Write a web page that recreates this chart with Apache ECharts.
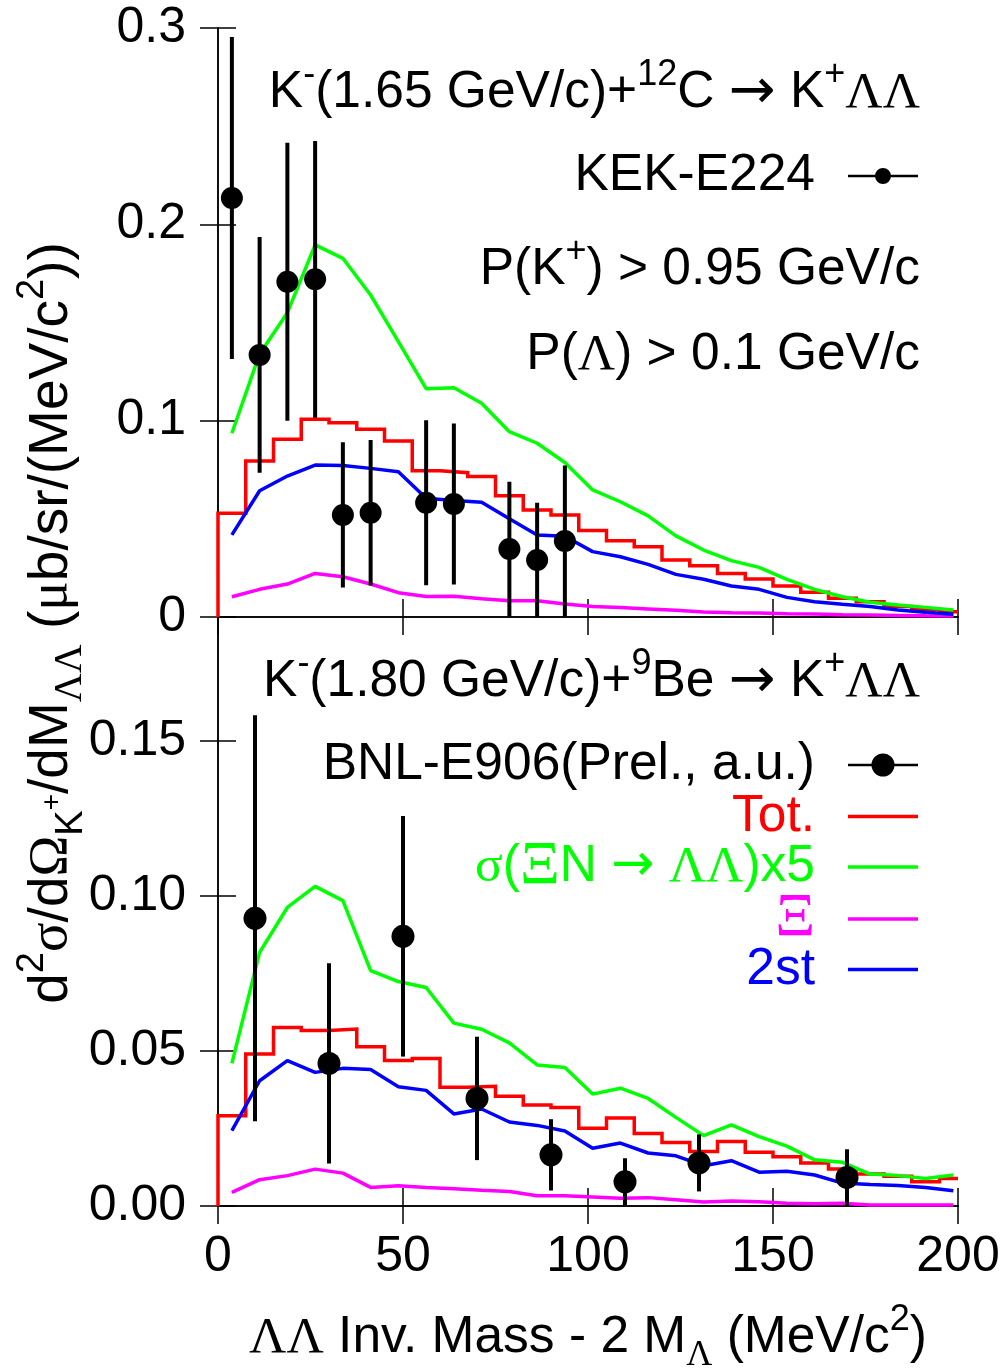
<!DOCTYPE html>
<html>
<head>
<meta charset="utf-8">
<script src="https://cdn.jsdelivr.net/npm/echarts@6/dist/echarts.min.js"></script>
<style>
html,body{margin:0;padding:0;background:#fff;}
#chart{width:1004px;height:1369px;}
</style>
</head>
<body>
<div id="chart"></div>
<script>
// ---------------- DATA ----------------
// mass bins (MeV/c^2): left edges and centres, 7.5 MeV wide
const binLeft = [0, 7.5, 15, 22.5, 30, 37.5, 45, 52.5, 60, 67.5, 75, 82.5, 90, 97.5, 105, 112.5, 120, 127.5, 135, 142.5, 150, 157.5, 165, 172.5, 180, 187.5, 195];
const binCenter = [3.75, 11.25, 18.75, 26.25, 33.75, 41.25, 48.75, 56.25, 63.75, 71.25, 78.75, 86.25, 93.75, 101.25, 108.75, 116.25, 123.75, 131.25, 138.75, 146.25, 153.75, 161.25, 168.75, 176.25, 183.75, 191.25, 198.75];
const massMin = 0, massMax = 200;

// upper panel: K-(1.65 GeV/c) + 12C
const topTot   = [0.0528, 0.0795, 0.0905, 0.1007, 0.0990, 0.0956, 0.0897, 0.0745, 0.0735, 0.0715, 0.0617, 0.0545, 0.0520, 0.0440, 0.0389, 0.0358, 0.0290, 0.0261, 0.0222, 0.0194, 0.0158, 0.0126, 0.0095, 0.0078, 0.0053, 0.0039, 0.0027];
const topSigma = [0.0936, 0.1340, 0.1550, 0.1895, 0.1827, 0.1640, 0.1403, 0.1163, 0.1168, 0.1089, 0.0944, 0.0885, 0.0787, 0.0647, 0.0587, 0.0515, 0.0413, 0.0341, 0.0287, 0.0253, 0.0192, 0.0141, 0.0103, 0.0075, 0.0061, 0.0049, 0.0036];
const topXi    = [0.0103, 0.0141, 0.0168, 0.0222, 0.0205, 0.0168, 0.0124, 0.0104, 0.0106, 0.0093, 0.0083, 0.0083, 0.0066, 0.0053, 0.0048, 0.0041, 0.0034, 0.0025, 0.0022, 0.0020, 0.0017, 0.0015, 0.0012, 0.0010, 0.0008, 0.0006, 0.0005];
const top2st   = [0.0418, 0.0643, 0.0718, 0.0774, 0.0772, 0.0757, 0.0740, 0.0605, 0.0593, 0.0585, 0.0500, 0.0418, 0.0411, 0.0333, 0.0307, 0.0268, 0.0217, 0.0192, 0.0158, 0.0141, 0.0100, 0.0078, 0.0065, 0.0053, 0.0036, 0.0024, 0.0014];
const kekMass  = [3.75, 11.25, 18.75, 26.25, 33.75, 41.25, 56.25, 63.75, 78.75, 86.25, 93.75];
const kekVal   = [0.2134, 0.1335, 0.1708, 0.1720, 0.0520, 0.0531, 0.0582, 0.0576, 0.0346, 0.0290, 0.0387];
const kekErr   = [0.0820, 0.0600, 0.0708, 0.0705, 0.0370, 0.0371, 0.0420, 0.0410, 0.0343, 0.0292, 0.0385];

// lower panel: K-(1.80 GeV/c) + 9Be
const botTot   = [0.0291, 0.0490, 0.0576, 0.0566, 0.0571, 0.0514, 0.0469, 0.0476, 0.0383, 0.0386, 0.0354, 0.0326, 0.0318, 0.0251, 0.0284, 0.0234, 0.0205, 0.0176, 0.0208, 0.0173, 0.0159, 0.0139, 0.0119, 0.0103, 0.0096, 0.0078, 0.0089];
const botSigma = [0.0460, 0.0818, 0.0963, 0.1031, 0.0985, 0.0759, 0.0724, 0.0705, 0.0590, 0.0570, 0.0526, 0.0455, 0.0447, 0.0361, 0.0380, 0.0347, 0.0286, 0.0227, 0.0262, 0.0224, 0.0193, 0.0149, 0.0141, 0.0103, 0.0098, 0.0089, 0.0100];
const botXi    = [0.0044, 0.0085, 0.0098, 0.0119, 0.0106, 0.0060, 0.0065, 0.0060, 0.0056, 0.0051, 0.0047, 0.0033, 0.0033, 0.0029, 0.0025, 0.0027, 0.0020, 0.0013, 0.0016, 0.0014, 0.0009, 0.0007, 0.0009, 0.0003, 0.0003, 0.0003, 0.0003];
const bot2st   = [0.0243, 0.0404, 0.0469, 0.0431, 0.0444, 0.0440, 0.0385, 0.0373, 0.0297, 0.0313, 0.0271, 0.0260, 0.0242, 0.0186, 0.0203, 0.0171, 0.0162, 0.0130, 0.0146, 0.0109, 0.0112, 0.0100, 0.0074, 0.0069, 0.0066, 0.0060, 0.0049];
const bnlMass  = [10, 30, 50, 70, 90, 110, 130, 170];
const bnlVal   = [0.0928, 0.0460, 0.0870, 0.0347, 0.0165, 0.0078, 0.0139, 0.0092];
const bnlErr   = [0.0655, 0.0323, 0.0388, 0.0199, 0.0115, 0.0076, 0.0092, 0.0091];

// axis ticks
const topYTicks = [0, 0.1, 0.2, 0.3];
const botYTicks = [0, 0.05, 0.10, 0.15];
const xTicks = [0, 50, 100, 150, 200];

// series names
const N_TOT = 'Tot.', N_SIG = 'σ(ΞN → ΛΛ)x5', N_XI = 'Ξ', N_2ST = '2st';
const N_KEK = 'KEK-E224', N_BNL = 'BNL-E906(Prel., a.u.)';

// ---------------- STYLE ----------------
const SANS = '"Liberation Sans", Arial, Helvetica, sans-serif';
const SERIF = '"Liberation Serif", "Times New Roman", serif';
const ARROW = '"DejaVu Sans", sans-serif';
const RED = '#ff0000', GREEN = '#00ff00', MAGENTA = '#ff00ff', BLUE = '#0000ff', BLACK = '#000000';
const FS = 51.5, FSS = 36, FTICK = 50;
const LW = 3.5;

function stepData(vals) {
  const d = [[binLeft[0], 0]];
  binLeft.forEach((x, i) => d.push([x, vals[i]]));
  d.push([massMax, vals[vals.length - 1]]);
  return d;
}
function lineData(vals) { return binCenter.map((x, i) => [x, vals[i]]); }
function pointData(xs, ys, es) { return xs.map((x, i) => [x, ys[i], es[i]]); }

function errRender(r) {
  return function (params, api) {
    const x = api.value(0), y = api.value(1), e = api.value(2);
    const c = api.coord([x, y]);
    const hi = api.coord([x, y + e]);
    const lo = api.coord([x, y - e]);
    return {
      type: 'group',
      children: [
        { type: 'line', shape: { x1: c[0], y1: hi[1], x2: c[0], y2: lo[1] }, style: { stroke: BLACK, lineWidth: 4 } },
        { type: 'circle', shape: { cx: c[0], cy: c[1], r: r }, style: { fill: BLACK } }
      ]
    };
  };
}

function panelSeries(xi, yi, tot, sig, xis, st, ptsName, pts, r) {
  const base = { xAxisIndex: xi, yAxisIndex: yi, type: 'line', showSymbol: false, symbol: 'none', animation: false, z: 2 };
  return [
    Object.assign({}, base, { name: N_TOT, step: 'end', data: stepData(tot), color: RED, itemStyle: { color: RED }, lineStyle: { color: RED, width: LW, join: 'miter' } }),
    Object.assign({}, base, { name: N_SIG, data: lineData(sig), color: GREEN, itemStyle: { color: GREEN }, lineStyle: { color: GREEN, width: LW } }),
    Object.assign({}, base, { name: N_XI, data: lineData(xis), color: MAGENTA, itemStyle: { color: MAGENTA }, lineStyle: { color: MAGENTA, width: LW } }),
    Object.assign({}, base, { name: N_2ST, data: lineData(st), color: BLUE, itemStyle: { color: BLUE }, lineStyle: { color: BLUE, width: LW } }),
    { name: ptsName, type: 'custom', xAxisIndex: xi, yAxisIndex: yi, data: pts, clip: true, z: 5,
      color: BLACK, itemStyle: { color: BLACK }, encode: { x: 0, y: 1 }, renderItem: errRender(r) }
  ];
}

const axisLineStyle = { show: true, lineStyle: { color: BLACK, width: 1.5 } };
const tickStyle = { show: true, inside: true, length: 18, lineStyle: { color: BLACK, width: 1.5 } };

function xAx(grid, pos, showLabel) {
  return {
    type: 'value', gridIndex: grid, position: pos, min: massMin, max: massMax, interval: 50,
    axisLine: axisLineStyle, axisTick: tickStyle, splitLine: { show: false },
    axisLabel: { show: showLabel, fontFamily: SANS, fontSize: FTICK, color: BLACK, margin: 26, lineHeight: 50,
      formatter: v => (xTicks.indexOf(v) >= 0 ? String(v) : '') }
  };
}
function yAx(grid, pos, max, interval, showLabel, fmt) {
  return {
    type: 'value', gridIndex: grid, position: pos, min: 0, max: max, interval: interval,
    axisLine: axisLineStyle, axisTick: tickStyle, splitLine: { show: false },
    axisLabel: { show: showLabel, fontFamily: SANS, fontSize: FTICK, color: BLACK, margin: 32, showMaxLabel: max === 0.3, formatter: fmt }
  };
}
const fmtTop = v => { const t = topYTicks.find(k => Math.abs(k - v) < 1e-9); return t === undefined ? '' : (t === 0 ? '0' : t.toFixed(1)); };
const fmtBot = v => { const t = botYTicks.find(k => Math.abs(k - v) < 1e-9); return t === undefined ? '' : t.toFixed(2); };

// rich text styles (option-level)
function richSet(color) {
  return {
    n:   { color: color, fontWeight: 'normal', fontFamily: SANS, fontSize: FS, lineHeight: 72, verticalAlign: 'middle' },
    g:   { color: color, fontWeight: 'normal', fontFamily: SERIF, fontSize: FS, lineHeight: 72, verticalAlign: 'middle' },
    a:   { color: color, fontWeight: 'normal', fontFamily: ARROW, fontSize: 56, lineHeight: 72, verticalAlign: 'middle' },
    sup: { color: color, fontWeight: 'normal', fontFamily: SANS, fontSize: FSS, lineHeight: FSS, verticalAlign: 'top' },
    sub: { color: color, fontWeight: 'normal', fontFamily: SANS, fontSize: FSS, lineHeight: FSS, verticalAlign: 'bottom' },
    gsub:{ color: color, fontWeight: 'normal', fontFamily: SERIF, fontSize: FSS, lineHeight: FSS, verticalAlign: 'bottom' }
  };
}
const titleRich = richSet(BLACK);

const legendRich = {
  k: { color: BLACK, fontFamily: SANS, fontSize: FS, lineHeight: 41 },
  r: { color: RED, fontFamily: SANS, fontSize: FS, lineHeight: 41 },
  gn: { color: GREEN, fontFamily: SANS, fontSize: FS, lineHeight: 41 },
  gg: { color: GREEN, fontFamily: SERIF, fontSize: FS, lineHeight: 41 },
  gx: { color: GREEN, fontFamily: SERIF, fontSize: 62, lineHeight: 41 },
  ga: { color: GREEN, fontFamily: ARROW, fontSize: FS, lineHeight: 41 },
  mg: { color: MAGENTA, fontFamily: SERIF, fontSize: 62, lineHeight: 41 },
  b: { color: BLUE, fontFamily: SANS, fontSize: FS, lineHeight: 41 },
  gp: { width: 28, lineHeight: 41, fontSize: 10 }
};
const legendLabel = {};
legendLabel[N_KEK] = '{k|KEK-E224}{gp| }';
legendLabel[N_BNL] = '{k|BNL-E906(Prel., a.u.)}{gp| }';
legendLabel[N_TOT] = '{r|Tot.}{gp| }';
legendLabel[N_SIG] = '{gg|σ}{gn|(}{gx|Ξ}{gn|N }{ga|→}{gn| }{gg|ΛΛ}{gn|)x5}{gp| }';
legendLabel[N_XI]  = '{mg|Ξ}{gp| }';
legendLabel[N_2ST] = '{b|2st}{gp| }';

const lineIcon = 'path://M0,0H70V3.5H0Z';
const kekIcon = 'path://M0,7H70V9.5H0Z M43,8.25A8,8,0,1,1,27,8.25A8,8,0,1,1,43,8.25Z';
const bnlIcon = 'path://M0,10.25H70V12.75H0Z M46.5,11.5A11.5,11.5,0,1,1,23.5,11.5A11.5,11.5,0,1,1,46.5,11.5Z';

// one legend block per entry so each row sits exactly where the original puts it
function legendEntry(name, icon, iconH, top) {
  return {
    orient: 'vertical', align: 'right', right: 86, top: top, padding: 0,
    itemWidth: 70, itemHeight: iconH, itemGap: 0, selectedMode: false,
    itemStyle: { borderWidth: 0 },
    textStyle: { fontFamily: SANS, fontSize: FS, lineHeight: 41, rich: legendRich },
    formatter: n => legendLabel[n],
    data: [{ name: name, icon: icon }]
  };
}

const chart = echarts.init(document.getElementById('chart'), null, { renderer: 'canvas' });

const option = {
  animation: false,
  backgroundColor: '#ffffff',
  textStyle: { fontFamily: SANS },
  grid: [
    { left: 218, right: 46, top: 28, height: 589, outerBoundsMode: 'none', containLabel: false },
    { left: 218, right: 46, top: 617, height: 589, outerBoundsMode: 'none', containLabel: false }
  ],
  xAxis: [
    xAx(0, 'bottom', false),
    xAx(0, 'top', false),
    Object.assign(xAx(1, 'bottom', true), {
      name: '{g|ΛΛ}{n| Inv. Mass - 2 M}{gsub|Λ}{n| (MeV/c}{sup|2}{n|)}',
      nameLocation: 'middle', nameGap: 96,
      nameTextStyle: { rich: titleRich, fontFamily: SANS, fontSize: FS, color: BLACK }
    }),
    xAx(1, 'top', false)
  ],
  yAxis: [
    yAx(0, 'left', 0.3, 0.1, true, fmtTop),
    yAx(0, 'right', 0.3, 0.1, false, fmtTop),
    yAx(1, 'left', 0.19, 0.05, true, fmtBot),
    yAx(1, 'right', 0.19, 0.05, false, fmtBot)
  ],
  title: [
    { right: 84, top: 57, padding: 0, text: '{n|K}{sup|-}{n|(1.65 GeV/c)+}{sup|12}{n|C }{a|→}{n| K}{sup|+}{g|ΛΛ}', textStyle: { rich: titleRich, fontWeight: 'normal' } },
    { right: 84, top: 234, padding: 0, text: '{n|P(K}{sup|+}{n|) > 0.95 GeV/c}', textStyle: { rich: titleRich, fontWeight: 'normal' } },
    { right: 84, top: 319, padding: 0, text: '{n|P(}{g|Λ}{n|) > 0.1 GeV/c}', textStyle: { rich: titleRich, fontWeight: 'normal' } },
    { right: 84, top: 646, padding: 0, text: '{n|K}{sup|-}{n|(1.80 GeV/c)+}{sup|9}{n|Be }{a|→}{n| K}{sup|+}{g|ΛΛ}', textStyle: { rich: titleRich, fontWeight: 'normal' } }
  ],
  legend: [
    legendEntry(N_KEK, kekIcon, 16, 150),
    legendEntry(N_BNL, bnlIcon, 23, 739),
    legendEntry(N_TOT, lineIcon, 3.5, 790.6),
    legendEntry(N_SIG, lineIcon, 3.5, 836),
    legendEntry(N_XI, lineIcon, 3.5, 888),
    legendEntry(N_2ST, lineIcon, 3.5, 943.4)
  ],
  graphic: [
    {
      type: 'text', x: 52, y: 623, rotation: Math.PI / 2, silent: true,
      style: {
        text: '{n|d}{sup|2}{g|σ}{n|/d}{g|Ω}{sub|K}{ss|+}{n|/dM}{gsub|ΛΛ}{n| (}{g|μ}{n|b/sr/(MeV/c}{sup|2}{n|))}',
        align: 'center', verticalAlign: 'middle',
        rich: {
          n:   { fill: BLACK, fontFamily: SANS, fontSize: 55, lineHeight: 77, verticalAlign: 'middle' },
          g:   { fill: BLACK, fontFamily: SERIF, fontSize: 55, lineHeight: 77, verticalAlign: 'middle' },
          sup: { fill: BLACK, fontFamily: SANS, fontSize: 38, lineHeight: 38, verticalAlign: 'top' },
          sub: { fill: BLACK, fontFamily: SANS, fontSize: 38, lineHeight: 38, verticalAlign: 'bottom' },
          ss:  { fill: BLACK, fontFamily: SANS, fontSize: 28, lineHeight: 28, verticalAlign: 'middle' },
          gsub:{ fill: BLACK, fontFamily: SERIF, fontSize: 40, lineHeight: 40, verticalAlign: 'bottom' }
        }
      }
    }
  ],
  series: [].concat(
    panelSeries(0, 0, topTot, topSigma, topXi, top2st, N_KEK, pointData(kekMass, kekVal, kekErr), 11),
    panelSeries(2, 2, botTot, botSigma, botXi, bot2st, N_BNL, pointData(bnlMass, bnlVal, bnlErr), 11.5)
  )
};
chart.setOption(option);
</script>
</body>
</html>
